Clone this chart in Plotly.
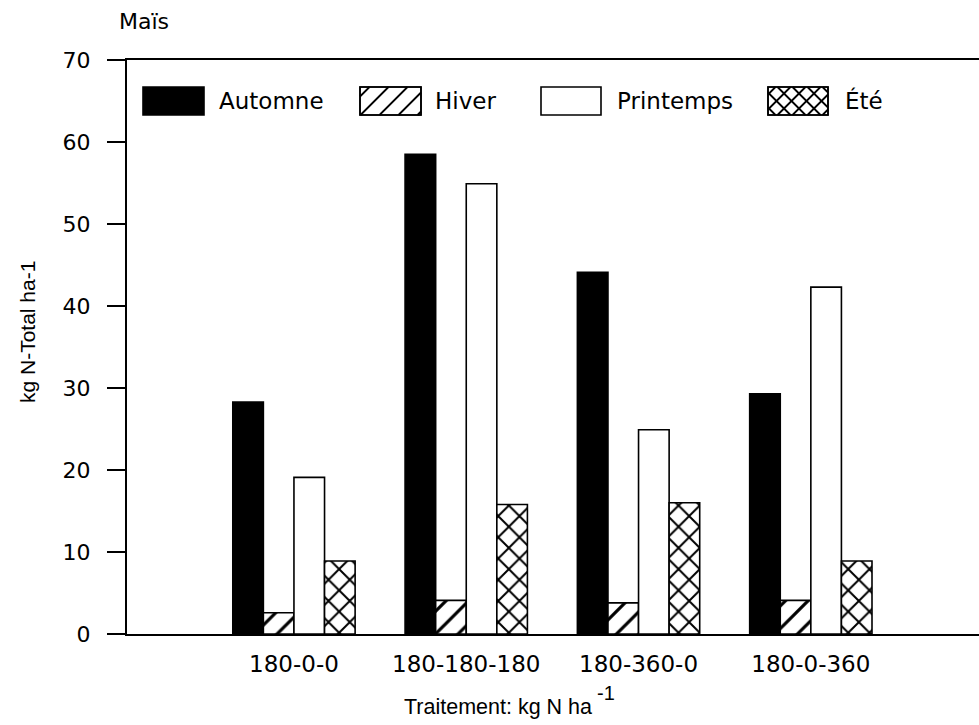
import plotly.graph_objects as go

# ---- data ----
categories = ["180-0-0", "180-180-180", "180-360-0", "180-0-360"]
automne = [28.3, 58.5, 44.1, 29.3]
hiver = [2.6, 4.1, 3.8, 4.1]
printemps = [19.1, 54.9, 24.9, 42.3]
ete = [8.9, 15.8, 16.0, 8.9]
series_names = ["Automne", "Hiver", "Printemps", "Été"]
y_ticks = [0, 10, 20, 30, 40, 50, 60, 70]

FONT = "DejaVu Sans, Liberation Sans, Arial, sans-serif"
TFONT = "Liberation Sans, Arial, sans-serif"
W, H = 979, 725
L, R, T, B = 127, 0, 60, 91
PX0, PX1 = L, W - R
PY0, PY1 = T, H - B


def X(px):
    return (px - PX0) / (PX1 - PX0)


def Y(py):
    return (PY1 - py) / (PY1 - PY0)


fig = go.Figure()

line = dict(color="black", width=1.6)
fig.add_trace(go.Bar(x=categories, y=automne, name=series_names[0],
                     marker=dict(color="black", line=line)))
fig.add_trace(go.Bar(x=categories, y=hiver, name=series_names[1],
                     marker=dict(color="white", line=line,
                                 pattern=dict(shape="/", fgcolor="black", bgcolor="white",
                                              size=16, solidity=0.2, fillmode="replace"))))
fig.add_trace(go.Bar(x=categories, y=printemps, name=series_names[2],
                     marker=dict(color="white", line=line)))
fig.add_trace(go.Bar(x=categories, y=ete, name=series_names[3],
                     marker=dict(color="white", line=line,
                                 pattern=dict(shape="x", fgcolor="black", bgcolor="white",
                                              size=15, solidity=0.25, fillmode="replace"))))

# ---- custom legend (large swatches as in the original) ----
shapes = []
annotations = []


def rect(x0, y0, x1, y1, fill):
    shapes.append(dict(type="rect", xref="paper", yref="paper",
                       x0=X(x0), x1=X(x1), y0=Y(y1), y1=Y(y0),
                       fillcolor=fill, line=dict(color="black", width=1.6)))


def hatch(x0, y0, x1, y1, spacing, direction):
    segs = []
    if direction == "/":
        c = x0 + y0 + spacing / 2
        while c < x1 + y1:
            xs = max(x0, c - y1)
            xe = min(x1, c - y0)
            if xs < xe:
                segs.append(((xs, c - xs), (xe, c - xe)))
            c += spacing
    else:
        c = x0 - y1 + spacing / 2
        while c < x1 - y0:
            xs = max(x0, c + y0)
            xe = min(x1, c + y1)
            if xs < xe:
                segs.append(((xs, xs - c), (xe, xe - c)))
            c += spacing
    path = " ".join(f"M {X(a[0]):.5f},{Y(a[1]):.5f} L {X(b[0]):.5f},{Y(b[1]):.5f}" for a, b in segs)
    shapes.append(dict(type="path", xref="paper", yref="paper", path=path,
                       line=dict(color="black", width=1.8)))


sy0, sy1 = 87, 115
legend_boxes = [(143, 204), (360, 421), (541, 601), (768, 828)]
legend_text_x = [217, 433, 615, 843]

rect(legend_boxes[0][0], sy0, legend_boxes[0][1], sy1, "black")
rect(legend_boxes[1][0], sy0, legend_boxes[1][1], sy1, "white")
hatch(legend_boxes[1][0], sy0, legend_boxes[1][1], sy1, 19, "/")
rect(legend_boxes[2][0], sy0, legend_boxes[2][1], sy1, "white")
rect(legend_boxes[3][0], sy0, legend_boxes[3][1], sy1, "white")
hatch(legend_boxes[3][0], sy0, legend_boxes[3][1], sy1, 15, "/")
hatch(legend_boxes[3][0], sy0, legend_boxes[3][1], sy1, 15, "\\")
rect(legend_boxes[1][0], sy0, legend_boxes[1][1], sy1, "rgba(0,0,0,0)")
rect(legend_boxes[3][0], sy0, legend_boxes[3][1], sy1, "rgba(0,0,0,0)")

for name, tx in zip(series_names, legend_text_x):
    annotations.append(dict(text=name, xref="paper", yref="paper", x=X(tx), y=Y(101),
                            xanchor="left", yanchor="middle", showarrow=False,
                            font=dict(family=FONT, size=23, color="black")))

annotations.append(dict(text="Maïs", xref="paper", yref="paper", x=X(117), y=Y(21),
                        xanchor="left", yanchor="middle", showarrow=False,
                        font=dict(family=FONT, size=22, color="black")))
annotations.append(dict(text="kg N-Total ha-1", xref="paper", yref="paper", x=X(27), y=Y(332),
                        xanchor="center", yanchor="middle", showarrow=False, textangle=-90,
                        font=dict(family=TFONT, size=21, color="black")))
annotations.append(dict(text="Traitement: kg N ha", xref="paper", yref="paper",
                        x=X(498), y=Y(707), xanchor="center", yanchor="middle", showarrow=False,
                        font=dict(family=TFONT, size=21.5, color="black")))
annotations.append(dict(text="-1", xref="paper", yref="paper",
                        x=X(595), y=Y(693), xanchor="left", yanchor="middle", showarrow=False,
                        font=dict(family=TFONT, size=20, color="black")))

fig.update_layout(
    width=W, height=H,
    margin=dict(l=L, r=R, t=T, b=B, pad=0),
    paper_bgcolor="white", plot_bgcolor="white",
    barmode="group", bargap=0.29, bargroupgap=0,
    showlegend=False,
    shapes=shapes, annotations=annotations,
    font=dict(family=FONT, size=23, color="black"),
)
fig.update_xaxes(range=[-0.969, 3.976], showline=True, linecolor="black", linewidth=2,
                 mirror=True, ticks="", showgrid=False, zeroline=False,
                 tickfont=dict(family=FONT, size=23, color="black"), ticklabelstandoff=8)
fig.update_yaxes(range=[0, 70], tickvals=y_ticks, showline=True, linecolor="black", linewidth=2,
                 ticks="outside", ticklen=18, tickwidth=1.6, tickcolor="black",
                 showgrid=False, zeroline=False, ticklabelstandoff=12,
                 tickfont=dict(family=FONT, size=22, color="black"))

fig.write_html("out.html", config={"displayModeBar": False},
               post_script="document.body.style.margin='0px';document.body.style.padding='0px';")
